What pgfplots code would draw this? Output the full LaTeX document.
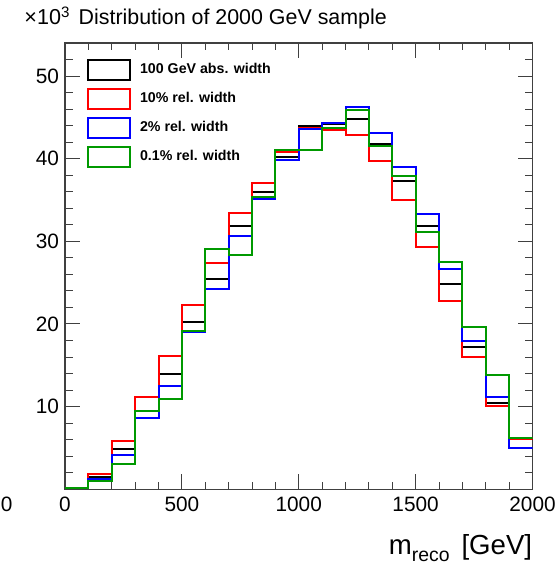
\documentclass[border=0pt]{standalone}
\usepackage{fontspec}
\setmainfont{Liberation Sans}
\usepackage{pgfplots}
\pgfplotsset{compat=1.18}
\definecolor{rgreen}{RGB}{0,153,0}
\definecolor{rred}{RGB}{255,0,0}
\definecolor{rblue}{RGB}{0,0,255}
\begin{document}
\begin{tikzpicture}
\path[use as bounding box] (0,0) rectangle (279pt,283pt);
\begin{axis}[
  at={(32.5pt,38.35pt)}, anchor=south west,
  scale only axis, width=233.75pt, height=223.15pt,
  xmin=0, xmax=2000, ymin=0, ymax=54,
  xtick={0,500,...,2000}, minor xtick={100,200,...,1900},
  ytick={10,20,...,50}, minor ytick={2,4,...,52},
  tick align=inside, xtick pos=both, ytick pos=both,
  major tick length=7.5pt, minor tick length=3.75pt,
  every tick/.style={black!75, line width=0.5pt},
  axis line style={black!75, line width=0.6pt},
  tick label style={font=\fontsize{10.4}{12}\selectfont},
  /pgf/number format/assume math mode=true,
  /pgf/number format/1000 sep={},
  xticklabel style={anchor=north, inner sep=0pt, yshift=-3.85pt},
  yticklabel style={anchor=east, inner sep=0pt, xshift=-2.85pt},
  xlabel={m\raisebox{-3.8pt}{\fontsize{9.7}{11}\selectfont reco}\hspace{6pt}[GeV]},
  every axis x label/.style={at={(rel axis cs:1,0)}, anchor=base east, yshift=-32.35pt, inner sep=0pt, font=\fontsize{13.8}{15}\selectfont},
  title={Distribution of 2000 GeV sample},
  every axis title/.style={at={(rel axis cs:0,1)}, anchor=base west, xshift=6.65pt, yshift=9pt, inner sep=0pt, font=\fontsize{10.7}{12}\selectfont},
  legend style={at={(rel axis cs:0,1)}, anchor=north west, xshift=10.85pt, yshift=-7.65pt,
    draw=none, fill=none, inner sep=0pt, row sep=3.55pt, column sep=4.5pt,
    nodes={inner sep=0pt}, font=\fontsize{7.1}{8.5}\selectfont\bfseries},
  legend cell align=left,
  legend image code/.code={\draw[#1] (0pt,-5pt) rectangle (21pt,5pt);},
  every axis plot/.append style={line width=1pt, const plot},
]
\addplot[black] coordinates {(0,0.15) (100,1.45) (200,4.9) (300,9.5) (400,13.9) (500,20.25) (600,25.4) (700,31.8) (800,36.0) (900,40.2) (1000,43.9) (1100,44.15) (1200,44.8) (1300,41.75) (1400,37.25) (1500,31.8) (1600,24.8) (1700,17.2) (1800,10.45) (1900,6.1) (2000,6.1)};
\addlegendentry{100 GeV abs. width}
\addplot[rred] coordinates {(0,0.1) (100,1.85) (200,5.9) (300,11.15) (400,16.1) (500,22.3) (600,27.4) (700,33.4) (800,37.1) (900,40.85) (1000,43.7) (1100,43.45) (1200,42.85) (1300,39.7) (1400,34.95) (1500,29.35) (1600,22.75) (1700,15.95) (1800,10.05) (1900,6.1) (2000,6.1)};
\addlegendentry{10\% rel. width}
\addplot[rblue] coordinates {(0,0.15) (100,1.2) (200,4.2) (300,8.6) (400,12.5) (500,19.0) (600,24.2) (700,30.6) (800,35.15) (900,39.8) (1000,43.55) (1100,44.35) (1200,46.3) (1300,43.05) (1400,39.0) (1500,33.3) (1600,26.65) (1700,17.95) (1800,11.15) (1900,5.05) (2000,5.05)};
\addlegendentry{2\% rel. width}
\addplot[rgreen] coordinates {(0,0.1) (100,0.95) (200,3.1) (300,9.5) (400,10.9) (500,19.2) (600,29.1) (700,28.4) (800,35.4) (900,41.0) (1000,41.1) (1100,43.75) (1200,45.9) (1300,41.55) (1400,37.85) (1500,31.1) (1600,27.5) (1700,19.65) (1800,13.8) (1900,6.15) (2000,6.15)};
\addlegendentry{0.1\% rel. width}
\end{axis}
\node[anchor=base west, inner sep=0pt, font=\fontsize{10.8}{12}\selectfont] at (12pt,270.5pt) {×10\textsuperscript{3}};
\node[anchor=center, inner sep=0pt, font=\fontsize{10.4}{12}\selectfont] at (3.35pt,31pt) {0};
\end{tikzpicture}
\end{document}
